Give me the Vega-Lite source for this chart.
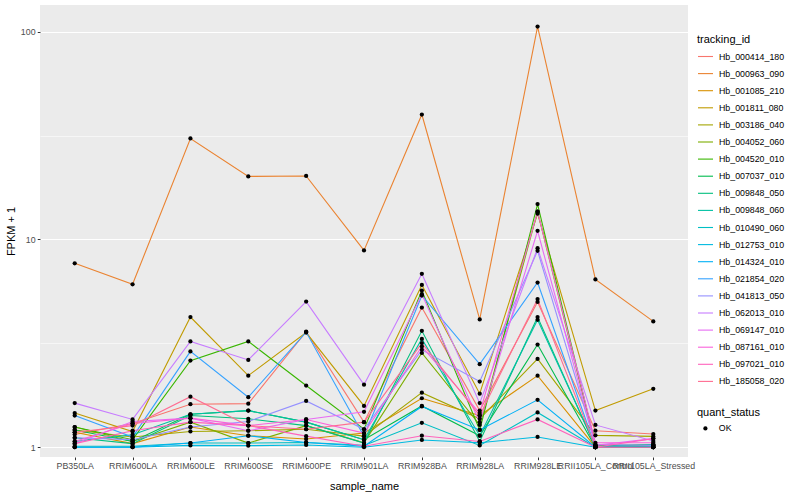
{
  "$schema": "https://vega.github.io/schema/vega-lite/v6.json",
  "width": 648,
  "height": 452,
  "autosize": {"type": "none"},
  "padding": {"left": 40, "top": 5, "right": 112, "bottom": 43},
  "background": "white",
  "config": {
    "font": "Liberation Sans",
    "view": {"fill": "#EBEBEB", "stroke": null},
    "axis": {
      "domain": false,
      "gridColor": "white",
      "gridWidth": 1.1,
      "tickColor": "#333333",
      "tickSize": 2.74,
      "tickWidth": 1,
      "labelColor": "#4D4D4D",
      "labelFont": "Liberation Sans",
      "labelFontSize": 8.8,
      "titleFont": "Liberation Sans",
      "titleFontSize": 11,
      "titleFontWeight": "normal",
      "titleColor": "black"
    },
    "legend": {
      "titleFont": "Liberation Sans",
      "titleFontSize": 11,
      "titleFontWeight": "normal",
      "titleColor": "black",
      "labelFont": "Liberation Sans",
      "labelFontSize": 8.8,
      "labelColor": "black",
      "padding": 0
    }
  },
  "data": {
    "values": [
      {"tracking_id":"Hb_000414_180","sample_name":"PB350LA","fpkm":1.15,"quant_status":"OK"},
      {"tracking_id":"Hb_000414_180","sample_name":"RRIM600LA","fpkm":1.30,"quant_status":"OK"},
      {"tracking_id":"Hb_000414_180","sample_name":"RRIM600LE","fpkm":1.61,"quant_status":"OK"},
      {"tracking_id":"Hb_000414_180","sample_name":"RRIM600SE","fpkm":1.62,"quant_status":"OK"},
      {"tracking_id":"Hb_000414_180","sample_name":"RRIM600PE","fpkm":3.60,"quant_status":"OK"},
      {"tracking_id":"Hb_000414_180","sample_name":"RRIM901LA","fpkm":1.32,"quant_status":"OK"},
      {"tracking_id":"Hb_000414_180","sample_name":"RRIM928BA","fpkm":4.70,"quant_status":"OK"},
      {"tracking_id":"Hb_000414_180","sample_name":"RRIM928LA","fpkm":1.50,"quant_status":"OK"},
      {"tracking_id":"Hb_000414_180","sample_name":"RRIM928LE","fpkm":5.00,"quant_status":"OK"},
      {"tracking_id":"Hb_000414_180","sample_name":"RRII105LA_Control","fpkm":1.20,"quant_status":"OK"},
      {"tracking_id":"Hb_000414_180","sample_name":"RRII105LA_Stressed","fpkm":1.157,"quant_status":"OK"},

      {"tracking_id":"Hb_000963_090","sample_name":"PB350LA","fpkm":7.67,"quant_status":"OK"},
      {"tracking_id":"Hb_000963_090","sample_name":"RRIM600LA","fpkm":6.08,"quant_status":"OK"},
      {"tracking_id":"Hb_000963_090","sample_name":"RRIM600LE","fpkm":30.6,"quant_status":"OK"},
      {"tracking_id":"Hb_000963_090","sample_name":"RRIM600SE","fpkm":20.1,"quant_status":"OK"},
      {"tracking_id":"Hb_000963_090","sample_name":"RRIM600PE","fpkm":20.2,"quant_status":"OK"},
      {"tracking_id":"Hb_000963_090","sample_name":"RRIM901LA","fpkm":8.85,"quant_status":"OK"},
      {"tracking_id":"Hb_000963_090","sample_name":"RRIM928BA","fpkm":39.9,"quant_status":"OK"},
      {"tracking_id":"Hb_000963_090","sample_name":"RRIM928LA","fpkm":4.12,"quant_status":"OK"},
      {"tracking_id":"Hb_000963_090","sample_name":"RRIM928LE","fpkm":105.7,"quant_status":"OK"},
      {"tracking_id":"Hb_000963_090","sample_name":"RRII105LA_Control","fpkm":6.42,"quant_status":"OK"},
      {"tracking_id":"Hb_000963_090","sample_name":"RRII105LA_Stressed","fpkm":4.03,"quant_status":"OK"},

      {"tracking_id":"Hb_001085_210","sample_name":"PB350LA","fpkm":1.18,"quant_status":"OK"},
      {"tracking_id":"Hb_001085_210","sample_name":"RRIM600LA","fpkm":1.04,"quant_status":"OK"},
      {"tracking_id":"Hb_001085_210","sample_name":"RRIM600LE","fpkm":1.25,"quant_status":"OK"},
      {"tracking_id":"Hb_001085_210","sample_name":"RRIM600SE","fpkm":1.136,"quant_status":"OK"},
      {"tracking_id":"Hb_001085_210","sample_name":"RRIM600PE","fpkm":1.095,"quant_status":"OK"},
      {"tracking_id":"Hb_001085_210","sample_name":"RRIM901LA","fpkm":1.17,"quant_status":"OK"},
      {"tracking_id":"Hb_001085_210","sample_name":"RRIM928BA","fpkm":1.72,"quant_status":"OK"},
      {"tracking_id":"Hb_001085_210","sample_name":"RRIM928LA","fpkm":1.42,"quant_status":"OK"},
      {"tracking_id":"Hb_001085_210","sample_name":"RRIM928LE","fpkm":2.21,"quant_status":"OK"},
      {"tracking_id":"Hb_001085_210","sample_name":"RRII105LA_Control","fpkm":1.0,"quant_status":"OK"},
      {"tracking_id":"Hb_001085_210","sample_name":"RRII105LA_Stressed","fpkm":1.03,"quant_status":"OK"},

      {"tracking_id":"Hb_001811_080","sample_name":"PB350LA","fpkm":1.46,"quant_status":"OK"},
      {"tracking_id":"Hb_001811_080","sample_name":"RRIM600LA","fpkm":1.19,"quant_status":"OK"},
      {"tracking_id":"Hb_001811_080","sample_name":"RRIM600LE","fpkm":4.23,"quant_status":"OK"},
      {"tracking_id":"Hb_001811_080","sample_name":"RRIM600SE","fpkm":2.21,"quant_status":"OK"},
      {"tracking_id":"Hb_001811_080","sample_name":"RRIM600PE","fpkm":3.56,"quant_status":"OK"},
      {"tracking_id":"Hb_001811_080","sample_name":"RRIM901LA","fpkm":1.58,"quant_status":"OK"},
      {"tracking_id":"Hb_001811_080","sample_name":"RRIM928BA","fpkm":6.04,"quant_status":"OK"},
      {"tracking_id":"Hb_001811_080","sample_name":"RRIM928LA","fpkm":1.81,"quant_status":"OK"},
      {"tracking_id":"Hb_001811_080","sample_name":"RRIM928LE","fpkm":13.3,"quant_status":"OK"},
      {"tracking_id":"Hb_001811_080","sample_name":"RRII105LA_Control","fpkm":1.5,"quant_status":"OK"},
      {"tracking_id":"Hb_001811_080","sample_name":"RRII105LA_Stressed","fpkm":1.91,"quant_status":"OK"},

      {"tracking_id":"Hb_003186_040","sample_name":"PB350LA","fpkm":1.21,"quant_status":"OK"},
      {"tracking_id":"Hb_003186_040","sample_name":"RRIM600LA","fpkm":1.12,"quant_status":"OK"},
      {"tracking_id":"Hb_003186_040","sample_name":"RRIM600LE","fpkm":1.19,"quant_status":"OK"},
      {"tracking_id":"Hb_003186_040","sample_name":"RRIM600SE","fpkm":1.20,"quant_status":"OK"},
      {"tracking_id":"Hb_003186_040","sample_name":"RRIM600PE","fpkm":1.22,"quant_status":"OK"},
      {"tracking_id":"Hb_003186_040","sample_name":"RRIM901LA","fpkm":1.13,"quant_status":"OK"},
      {"tracking_id":"Hb_003186_040","sample_name":"RRIM928BA","fpkm":1.83,"quant_status":"OK"},
      {"tracking_id":"Hb_003186_040","sample_name":"RRIM928LA","fpkm":1.37,"quant_status":"OK"},
      {"tracking_id":"Hb_003186_040","sample_name":"RRIM928LE","fpkm":2.66,"quant_status":"OK"},
      {"tracking_id":"Hb_003186_040","sample_name":"RRII105LA_Control","fpkm":1.14,"quant_status":"OK"},
      {"tracking_id":"Hb_003186_040","sample_name":"RRII105LA_Stressed","fpkm":1.127,"quant_status":"OK"},

      {"tracking_id":"Hb_004052_060","sample_name":"PB350LA","fpkm":1.25,"quant_status":"OK"},
      {"tracking_id":"Hb_004052_060","sample_name":"RRIM600LA","fpkm":1.066,"quant_status":"OK"},
      {"tracking_id":"Hb_004052_060","sample_name":"RRIM600LE","fpkm":1.32,"quant_status":"OK"},
      {"tracking_id":"Hb_004052_060","sample_name":"RRIM600SE","fpkm":1.047,"quant_status":"OK"},
      {"tracking_id":"Hb_004052_060","sample_name":"RRIM600PE","fpkm":1.27,"quant_status":"OK"},
      {"tracking_id":"Hb_004052_060","sample_name":"RRIM901LA","fpkm":1.05,"quant_status":"OK"},
      {"tracking_id":"Hb_004052_060","sample_name":"RRIM928BA","fpkm":2.84,"quant_status":"OK"},
      {"tracking_id":"Hb_004052_060","sample_name":"RRIM928LA","fpkm":1.28,"quant_status":"OK"},
      {"tracking_id":"Hb_004052_060","sample_name":"RRIM928LE","fpkm":13.6,"quant_status":"OK"},
      {"tracking_id":"Hb_004052_060","sample_name":"RRII105LA_Control","fpkm":1.02,"quant_status":"OK"},
      {"tracking_id":"Hb_004052_060","sample_name":"RRII105LA_Stressed","fpkm":1.02,"quant_status":"OK"},

      {"tracking_id":"Hb_004520_010","sample_name":"PB350LA","fpkm":1.25,"quant_status":"OK"},
      {"tracking_id":"Hb_004520_010","sample_name":"RRIM600LA","fpkm":1.087,"quant_status":"OK"},
      {"tracking_id":"Hb_004520_010","sample_name":"RRIM600LE","fpkm":2.61,"quant_status":"OK"},
      {"tracking_id":"Hb_004520_010","sample_name":"RRIM600SE","fpkm":3.23,"quant_status":"OK"},
      {"tracking_id":"Hb_004520_010","sample_name":"RRIM600PE","fpkm":1.98,"quant_status":"OK"},
      {"tracking_id":"Hb_004520_010","sample_name":"RRIM901LA","fpkm":1.22,"quant_status":"OK"},
      {"tracking_id":"Hb_004520_010","sample_name":"RRIM928BA","fpkm":5.67,"quant_status":"OK"},
      {"tracking_id":"Hb_004520_010","sample_name":"RRIM928LA","fpkm":1.21,"quant_status":"OK"},
      {"tracking_id":"Hb_004520_010","sample_name":"RRIM928LE","fpkm":14.8,"quant_status":"OK"},
      {"tracking_id":"Hb_004520_010","sample_name":"RRII105LA_Control","fpkm":1.02,"quant_status":"OK"},
      {"tracking_id":"Hb_004520_010","sample_name":"RRII105LA_Stressed","fpkm":1.02,"quant_status":"OK"},

      {"tracking_id":"Hb_007037_010","sample_name":"PB350LA","fpkm":1.21,"quant_status":"OK"},
      {"tracking_id":"Hb_007037_010","sample_name":"RRIM600LA","fpkm":1.066,"quant_status":"OK"},
      {"tracking_id":"Hb_007037_010","sample_name":"RRIM600LE","fpkm":1.44,"quant_status":"OK"},
      {"tracking_id":"Hb_007037_010","sample_name":"RRIM600SE","fpkm":1.50,"quant_status":"OK"},
      {"tracking_id":"Hb_007037_010","sample_name":"RRIM600PE","fpkm":1.32,"quant_status":"OK"},
      {"tracking_id":"Hb_007037_010","sample_name":"RRIM901LA","fpkm":1.087,"quant_status":"OK"},
      {"tracking_id":"Hb_007037_010","sample_name":"RRIM928BA","fpkm":1.58,"quant_status":"OK"},
      {"tracking_id":"Hb_007037_010","sample_name":"RRIM928LA","fpkm":1.136,"quant_status":"OK"},
      {"tracking_id":"Hb_007037_010","sample_name":"RRIM928LE","fpkm":3.12,"quant_status":"OK"},
      {"tracking_id":"Hb_007037_010","sample_name":"RRII105LA_Control","fpkm":1.0,"quant_status":"OK"},
      {"tracking_id":"Hb_007037_010","sample_name":"RRII105LA_Stressed","fpkm":1.01,"quant_status":"OK"},

      {"tracking_id":"Hb_009848_050","sample_name":"PB350LA","fpkm":1.11,"quant_status":"OK"},
      {"tracking_id":"Hb_009848_050","sample_name":"RRIM600LA","fpkm":1.04,"quant_status":"OK"},
      {"tracking_id":"Hb_009848_050","sample_name":"RRIM600LE","fpkm":1.42,"quant_status":"OK"},
      {"tracking_id":"Hb_009848_050","sample_name":"RRIM600SE","fpkm":1.37,"quant_status":"OK"},
      {"tracking_id":"Hb_009848_050","sample_name":"RRIM600PE","fpkm":1.27,"quant_status":"OK"},
      {"tracking_id":"Hb_009848_050","sample_name":"RRIM901LA","fpkm":1.047,"quant_status":"OK"},
      {"tracking_id":"Hb_009848_050","sample_name":"RRIM928BA","fpkm":3.63,"quant_status":"OK"},
      {"tracking_id":"Hb_009848_050","sample_name":"RRIM928LA","fpkm":1.066,"quant_status":"OK"},
      {"tracking_id":"Hb_009848_050","sample_name":"RRIM928LE","fpkm":4.23,"quant_status":"OK"},
      {"tracking_id":"Hb_009848_050","sample_name":"RRII105LA_Control","fpkm":1.0,"quant_status":"OK"},
      {"tracking_id":"Hb_009848_050","sample_name":"RRII105LA_Stressed","fpkm":1.0,"quant_status":"OK"},

      {"tracking_id":"Hb_009848_060","sample_name":"PB350LA","fpkm":1.066,"quant_status":"OK"},
      {"tracking_id":"Hb_009848_060","sample_name":"RRIM600LA","fpkm":1.148,"quant_status":"OK"},
      {"tracking_id":"Hb_009848_060","sample_name":"RRIM600LE","fpkm":1.44,"quant_status":"OK"},
      {"tracking_id":"Hb_009848_060","sample_name":"RRIM600SE","fpkm":1.50,"quant_status":"OK"},
      {"tracking_id":"Hb_009848_060","sample_name":"RRIM600PE","fpkm":1.32,"quant_status":"OK"},
      {"tracking_id":"Hb_009848_060","sample_name":"RRIM901LA","fpkm":1.087,"quant_status":"OK"},
      {"tracking_id":"Hb_009848_060","sample_name":"RRIM928BA","fpkm":3.32,"quant_status":"OK"},
      {"tracking_id":"Hb_009848_060","sample_name":"RRIM928LA","fpkm":1.136,"quant_status":"OK"},
      {"tracking_id":"Hb_009848_060","sample_name":"RRIM928LE","fpkm":4.10,"quant_status":"OK"},
      {"tracking_id":"Hb_009848_060","sample_name":"RRII105LA_Control","fpkm":1.01,"quant_status":"OK"},
      {"tracking_id":"Hb_009848_060","sample_name":"RRII105LA_Stressed","fpkm":1.03,"quant_status":"OK"},

      {"tracking_id":"Hb_010490_060","sample_name":"PB350LA","fpkm":1.01,"quant_status":"OK"},
      {"tracking_id":"Hb_010490_060","sample_name":"RRIM600LA","fpkm":1.01,"quant_status":"OK"},
      {"tracking_id":"Hb_010490_060","sample_name":"RRIM600LE","fpkm":1.047,"quant_status":"OK"},
      {"tracking_id":"Hb_010490_060","sample_name":"RRIM600SE","fpkm":1.047,"quant_status":"OK"},
      {"tracking_id":"Hb_010490_060","sample_name":"RRIM600PE","fpkm":1.054,"quant_status":"OK"},
      {"tracking_id":"Hb_010490_060","sample_name":"RRIM901LA","fpkm":1.02,"quant_status":"OK"},
      {"tracking_id":"Hb_010490_060","sample_name":"RRIM928BA","fpkm":1.31,"quant_status":"OK"},
      {"tracking_id":"Hb_010490_060","sample_name":"RRIM928LA","fpkm":1.02,"quant_status":"OK"},
      {"tracking_id":"Hb_010490_060","sample_name":"RRIM928LE","fpkm":1.47,"quant_status":"OK"},
      {"tracking_id":"Hb_010490_060","sample_name":"RRII105LA_Control","fpkm":1.0,"quant_status":"OK"},
      {"tracking_id":"Hb_010490_060","sample_name":"RRII105LA_Stressed","fpkm":1.0,"quant_status":"OK"},

      {"tracking_id":"Hb_012753_010","sample_name":"PB350LA","fpkm":1.0,"quant_status":"OK"},
      {"tracking_id":"Hb_012753_010","sample_name":"RRIM600LA","fpkm":1.0,"quant_status":"OK"},
      {"tracking_id":"Hb_012753_010","sample_name":"RRIM600LE","fpkm":1.02,"quant_status":"OK"},
      {"tracking_id":"Hb_012753_010","sample_name":"RRIM600SE","fpkm":1.017,"quant_status":"OK"},
      {"tracking_id":"Hb_012753_010","sample_name":"RRIM600PE","fpkm":1.025,"quant_status":"OK"},
      {"tracking_id":"Hb_012753_010","sample_name":"RRIM901LA","fpkm":1.0,"quant_status":"OK"},
      {"tracking_id":"Hb_012753_010","sample_name":"RRIM928BA","fpkm":1.083,"quant_status":"OK"},
      {"tracking_id":"Hb_012753_010","sample_name":"RRIM928LA","fpkm":1.05,"quant_status":"OK"},
      {"tracking_id":"Hb_012753_010","sample_name":"RRIM928LE","fpkm":1.12,"quant_status":"OK"},
      {"tracking_id":"Hb_012753_010","sample_name":"RRII105LA_Control","fpkm":1.0,"quant_status":"OK"},
      {"tracking_id":"Hb_012753_010","sample_name":"RRII105LA_Stressed","fpkm":1.0,"quant_status":"OK"},

      {"tracking_id":"Hb_014324_010","sample_name":"PB350LA","fpkm":1.0,"quant_status":"OK"},
      {"tracking_id":"Hb_014324_010","sample_name":"RRIM600LA","fpkm":1.0,"quant_status":"OK"},
      {"tracking_id":"Hb_014324_010","sample_name":"RRIM600LE","fpkm":1.047,"quant_status":"OK"},
      {"tracking_id":"Hb_014324_010","sample_name":"RRIM600SE","fpkm":1.136,"quant_status":"OK"},
      {"tracking_id":"Hb_014324_010","sample_name":"RRIM600PE","fpkm":1.054,"quant_status":"OK"},
      {"tracking_id":"Hb_014324_010","sample_name":"RRIM901LA","fpkm":1.01,"quant_status":"OK"},
      {"tracking_id":"Hb_014324_010","sample_name":"RRIM928BA","fpkm":1.57,"quant_status":"OK"},
      {"tracking_id":"Hb_014324_010","sample_name":"RRIM928LA","fpkm":1.21,"quant_status":"OK"},
      {"tracking_id":"Hb_014324_010","sample_name":"RRIM928LE","fpkm":1.69,"quant_status":"OK"},
      {"tracking_id":"Hb_014324_010","sample_name":"RRII105LA_Control","fpkm":1.0,"quant_status":"OK"},
      {"tracking_id":"Hb_014324_010","sample_name":"RRII105LA_Stressed","fpkm":1.0,"quant_status":"OK"},

      {"tracking_id":"Hb_021854_020","sample_name":"PB350LA","fpkm":1.42,"quant_status":"OK"},
      {"tracking_id":"Hb_021854_020","sample_name":"RRIM600LA","fpkm":1.12,"quant_status":"OK"},
      {"tracking_id":"Hb_021854_020","sample_name":"RRIM600LE","fpkm":2.89,"quant_status":"OK"},
      {"tracking_id":"Hb_021854_020","sample_name":"RRIM600SE","fpkm":1.74,"quant_status":"OK"},
      {"tracking_id":"Hb_021854_020","sample_name":"RRIM600PE","fpkm":3.58,"quant_status":"OK"},
      {"tracking_id":"Hb_021854_020","sample_name":"RRIM901LA","fpkm":1.13,"quant_status":"OK"},
      {"tracking_id":"Hb_021854_020","sample_name":"RRIM928BA","fpkm":5.37,"quant_status":"OK"},
      {"tracking_id":"Hb_021854_020","sample_name":"RRIM928LA","fpkm":2.51,"quant_status":"OK"},
      {"tracking_id":"Hb_021854_020","sample_name":"RRIM928LE","fpkm":6.2,"quant_status":"OK"},
      {"tracking_id":"Hb_021854_020","sample_name":"RRII105LA_Control","fpkm":1.0,"quant_status":"OK"},
      {"tracking_id":"Hb_021854_020","sample_name":"RRII105LA_Stressed","fpkm":1.0,"quant_status":"OK"},

      {"tracking_id":"Hb_041813_050","sample_name":"PB350LA","fpkm":1.11,"quant_status":"OK"},
      {"tracking_id":"Hb_041813_050","sample_name":"RRIM600LA","fpkm":1.087,"quant_status":"OK"},
      {"tracking_id":"Hb_041813_050","sample_name":"RRIM600LE","fpkm":1.25,"quant_status":"OK"},
      {"tracking_id":"Hb_041813_050","sample_name":"RRIM600SE","fpkm":1.33,"quant_status":"OK"},
      {"tracking_id":"Hb_041813_050","sample_name":"RRIM600PE","fpkm":1.67,"quant_status":"OK"},
      {"tracking_id":"Hb_041813_050","sample_name":"RRIM901LA","fpkm":1.22,"quant_status":"OK"},
      {"tracking_id":"Hb_041813_050","sample_name":"RRIM928BA","fpkm":2.94,"quant_status":"OK"},
      {"tracking_id":"Hb_041813_050","sample_name":"RRIM928LA","fpkm":2.07,"quant_status":"OK"},
      {"tracking_id":"Hb_041813_050","sample_name":"RRIM928LE","fpkm":8.81,"quant_status":"OK"},
      {"tracking_id":"Hb_041813_050","sample_name":"RRII105LA_Control","fpkm":1.03,"quant_status":"OK"},
      {"tracking_id":"Hb_041813_050","sample_name":"RRII105LA_Stressed","fpkm":1.02,"quant_status":"OK"},

      {"tracking_id":"Hb_062013_010","sample_name":"PB350LA","fpkm":1.63,"quant_status":"OK"},
      {"tracking_id":"Hb_062013_010","sample_name":"RRIM600LA","fpkm":1.36,"quant_status":"OK"},
      {"tracking_id":"Hb_062013_010","sample_name":"RRIM600LE","fpkm":3.23,"quant_status":"OK"},
      {"tracking_id":"Hb_062013_010","sample_name":"RRIM600SE","fpkm":2.63,"quant_status":"OK"},
      {"tracking_id":"Hb_062013_010","sample_name":"RRIM600PE","fpkm":5.02,"quant_status":"OK"},
      {"tracking_id":"Hb_062013_010","sample_name":"RRIM901LA","fpkm":2.0,"quant_status":"OK"},
      {"tracking_id":"Hb_062013_010","sample_name":"RRIM928BA","fpkm":6.83,"quant_status":"OK"},
      {"tracking_id":"Hb_062013_010","sample_name":"RRIM928LA","fpkm":1.63,"quant_status":"OK"},
      {"tracking_id":"Hb_062013_010","sample_name":"RRIM928LE","fpkm":9.07,"quant_status":"OK"},
      {"tracking_id":"Hb_062013_010","sample_name":"RRII105LA_Control","fpkm":1.28,"quant_status":"OK"},
      {"tracking_id":"Hb_062013_010","sample_name":"RRII105LA_Stressed","fpkm":1.07,"quant_status":"OK"},

      {"tracking_id":"Hb_069147_010","sample_name":"PB350LA","fpkm":1.04,"quant_status":"OK"},
      {"tracking_id":"Hb_069147_010","sample_name":"RRIM600LA","fpkm":1.33,"quant_status":"OK"},
      {"tracking_id":"Hb_069147_010","sample_name":"RRIM600LE","fpkm":1.38,"quant_status":"OK"},
      {"tracking_id":"Hb_069147_010","sample_name":"RRIM600SE","fpkm":1.20,"quant_status":"OK"},
      {"tracking_id":"Hb_069147_010","sample_name":"RRIM600PE","fpkm":1.36,"quant_status":"OK"},
      {"tracking_id":"Hb_069147_010","sample_name":"RRIM901LA","fpkm":1.48,"quant_status":"OK"},
      {"tracking_id":"Hb_069147_010","sample_name":"RRIM928BA","fpkm":5.45,"quant_status":"OK"},
      {"tracking_id":"Hb_069147_010","sample_name":"RRIM928LA","fpkm":1.32,"quant_status":"OK"},
      {"tracking_id":"Hb_069147_010","sample_name":"RRIM928LE","fpkm":11.0,"quant_status":"OK"},
      {"tracking_id":"Hb_069147_010","sample_name":"RRII105LA_Control","fpkm":1.02,"quant_status":"OK"},
      {"tracking_id":"Hb_069147_010","sample_name":"RRII105LA_Stressed","fpkm":1.1,"quant_status":"OK"},

      {"tracking_id":"Hb_087161_010","sample_name":"PB350LA","fpkm":1.066,"quant_status":"OK"},
      {"tracking_id":"Hb_087161_010","sample_name":"RRIM600LA","fpkm":1.30,"quant_status":"OK"},
      {"tracking_id":"Hb_087161_010","sample_name":"RRIM600LE","fpkm":1.38,"quant_status":"OK"},
      {"tracking_id":"Hb_087161_010","sample_name":"RRIM600SE","fpkm":1.27,"quant_status":"OK"},
      {"tracking_id":"Hb_087161_010","sample_name":"RRIM600PE","fpkm":1.36,"quant_status":"OK"},
      {"tracking_id":"Hb_087161_010","sample_name":"RRIM901LA","fpkm":1.17,"quant_status":"OK"},
      {"tracking_id":"Hb_087161_010","sample_name":"RRIM928BA","fpkm":3.05,"quant_status":"OK"},
      {"tracking_id":"Hb_087161_010","sample_name":"RRIM928LA","fpkm":1.46,"quant_status":"OK"},
      {"tracking_id":"Hb_087161_010","sample_name":"RRIM928LE","fpkm":13.6,"quant_status":"OK"},
      {"tracking_id":"Hb_087161_010","sample_name":"RRII105LA_Control","fpkm":1.05,"quant_status":"OK"},
      {"tracking_id":"Hb_087161_010","sample_name":"RRII105LA_Stressed","fpkm":1.05,"quant_status":"OK"},

      {"tracking_id":"Hb_097021_010","sample_name":"PB350LA","fpkm":1.04,"quant_status":"OK"},
      {"tracking_id":"Hb_097021_010","sample_name":"RRIM600LA","fpkm":1.20,"quant_status":"OK"},
      {"tracking_id":"Hb_097021_010","sample_name":"RRIM600LE","fpkm":1.32,"quant_status":"OK"},
      {"tracking_id":"Hb_097021_010","sample_name":"RRIM600SE","fpkm":1.27,"quant_status":"OK"},
      {"tracking_id":"Hb_097021_010","sample_name":"RRIM600PE","fpkm":1.13,"quant_status":"OK"},
      {"tracking_id":"Hb_097021_010","sample_name":"RRIM901LA","fpkm":1.01,"quant_status":"OK"},
      {"tracking_id":"Hb_097021_010","sample_name":"RRIM928BA","fpkm":1.136,"quant_status":"OK"},
      {"tracking_id":"Hb_097021_010","sample_name":"RRIM928LA","fpkm":1.066,"quant_status":"OK"},
      {"tracking_id":"Hb_097021_010","sample_name":"RRIM928LE","fpkm":1.36,"quant_status":"OK"},
      {"tracking_id":"Hb_097021_010","sample_name":"RRII105LA_Control","fpkm":1.0,"quant_status":"OK"},
      {"tracking_id":"Hb_097021_010","sample_name":"RRII105LA_Stressed","fpkm":1.1,"quant_status":"OK"},

      {"tracking_id":"Hb_185058_020","sample_name":"PB350LA","fpkm":1.18,"quant_status":"OK"},
      {"tracking_id":"Hb_185058_020","sample_name":"RRIM600LA","fpkm":1.27,"quant_status":"OK"},
      {"tracking_id":"Hb_185058_020","sample_name":"RRIM600LE","fpkm":1.75,"quant_status":"OK"},
      {"tracking_id":"Hb_185058_020","sample_name":"RRIM600SE","fpkm":1.27,"quant_status":"OK"},
      {"tracking_id":"Hb_185058_020","sample_name":"RRIM600PE","fpkm":1.22,"quant_status":"OK"},
      {"tracking_id":"Hb_185058_020","sample_name":"RRIM901LA","fpkm":1.32,"quant_status":"OK"},
      {"tracking_id":"Hb_185058_020","sample_name":"RRIM928BA","fpkm":3.17,"quant_status":"OK"},
      {"tracking_id":"Hb_185058_020","sample_name":"RRIM928LA","fpkm":1.42,"quant_status":"OK"},
      {"tracking_id":"Hb_185058_020","sample_name":"RRIM928LE","fpkm":5.16,"quant_status":"OK"},
      {"tracking_id":"Hb_185058_020","sample_name":"RRII105LA_Control","fpkm":1.0,"quant_status":"OK"},
      {"tracking_id":"Hb_185058_020","sample_name":"RRII105LA_Stressed","fpkm":1.0,"quant_status":"OK"}
    ]
  },
  "encoding": {
    "x": {
      "field": "sample_name",
      "type": "nominal",
      "scale": {
        "type": "point",
        "padding": 0.6,
        "domain": ["PB350LA","RRIM600LA","RRIM600LE","RRIM600SE","RRIM600PE","RRIM901LA","RRIM928BA","RRIM928LA","RRIM928LE","RRII105LA_Control","RRII105LA_Stressed"]
      },
      "axis": {
        "title": "sample_name",
        "labelAngle": 0,
        "labelOverlap": false,
        "labelLimit": 300,
        "labelPadding": 1.5,
        "titlePadding": 10
      }
    },
    "y": {
      "field": "fpkm",
      "type": "quantitative",
      "scale": {"type": "log", "domain": [0.897, 134.3], "nice": false, "zero": false},
      "axis": {
        "title": "FPKM + 1",
        "values": [1, 3.1623, 10, 31.623, 100],
        "labelExpr": "datum.value == 1 ? '1' : datum.value == 10 ? '10' : datum.value == 100 ? '100' : ''",
        "tickOpacity": {"condition": {"test": "datum.value == 1 || datum.value == 10 || datum.value == 100", "value": 1}, "value": 0},
        "gridWidth": {"condition": {"test": "datum.value == 1 || datum.value == 10 || datum.value == 100", "value": 1.1}, "value": 0.55},
        "labelPadding": 2.2,
        "titlePadding": 4
      }
    }
  },
  "layer": [
    {
      "mark": {"type": "line", "strokeWidth": 1.1},
      "encoding": {
        "color": {
          "field": "tracking_id",
          "type": "nominal",
          "scale": {
            "domain": ["Hb_000414_180","Hb_000963_090","Hb_001085_210","Hb_001811_080","Hb_003186_040","Hb_004052_060","Hb_004520_010","Hb_007037_010","Hb_009848_050","Hb_009848_060","Hb_010490_060","Hb_012753_010","Hb_014324_010","Hb_021854_020","Hb_041813_050","Hb_062013_010","Hb_069147_010","Hb_087161_010","Hb_097021_010","Hb_185058_020"],
            "range": ["#F8766D","#EA8331","#D89000","#C09B00","#A3A500","#7CAE00","#39B600","#00BB4E","#00BF7D","#00C1A3","#00BFC4","#00BAE0","#00B0F6","#35A2FF","#9590FF","#C77CFF","#E76BF3","#FA62DB","#FF62BC","#FF6C91"]
          },
          "legend": {
            "title": "tracking_id",
            "orient": "none",
            "legendX": 657,
            "legendY": 29,
            "symbolType": "stroke",
            "symbolSize": 225,
            "symbolStrokeWidth": 1.1,
            "rowPadding": 3.1,
            "titlePadding": 3,
            "labelOffset": 5
          }
        }
      }
    },
    {
      "mark": {"type": "point", "filled": true, "color": "black", "size": 18, "opacity": 1},
      "encoding": {
        "shape": {
          "field": "quant_status",
          "type": "nominal",
          "scale": {"domain": ["OK"], "range": ["circle"]},
          "legend": {
            "title": "quant_status",
            "orient": "none",
            "legendX": 657,
            "legendY": 402,
            "symbolSize": 18,
            "symbolFillColor": "black",
            "symbolStrokeColor": "black",
            "symbolOffset": 4,
            "titlePadding": 6,
            "labelOffset": 9
          }
        }
      }
    }
  ]
}
